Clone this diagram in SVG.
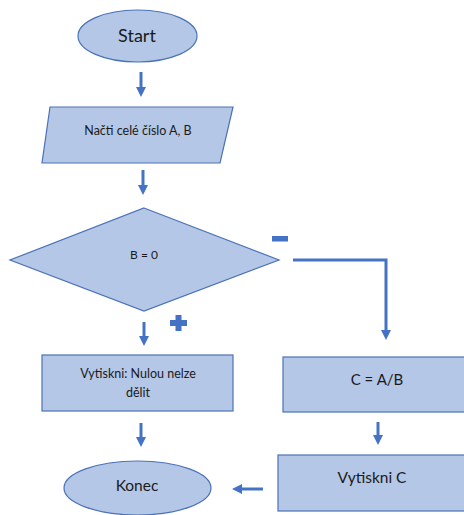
<svg xmlns="http://www.w3.org/2000/svg" width="464" height="515" viewBox="0 0 464 515">
<defs>
<style>
.shape{fill:#B4C7E7;stroke:#4A72B8;stroke-width:1.2}
.t{font-family:Lato,"Open Sans",sans-serif;fill:#1a1a1a;text-anchor:middle}
.c{stroke:#4472C4;stroke-width:3;fill:none}
.h{fill:#4472C4}
</style>
</defs>
<rect width="464" height="515" fill="#FFFFFF"/>
<g id="start">
<ellipse class="shape" cx="137.5" cy="36" rx="59.5" ry="26"/>
<text class="t" x="137" y="42" font-size="18">Start</text>
</g>
<g id="input">
<polygon class="shape" points="50,107 233,107 220,163 42,163"/>
<text class="t" x="138" y="135" font-size="12.5">Načti celé číslo A, B</text>
</g>
<g id="decision">
<polygon class="shape" points="144,208 279,260 144,311 10,260"/>
<text class="t" x="144" y="259" font-size="12">B = 0</text>
</g>
<g id="error">
<rect class="shape" x="42" y="355" width="191" height="56"/>
<text class="t" x="138" y="378" font-size="12.5">Vytiskni: Nulou nelze</text>
<text class="t" x="138" y="397" font-size="12.5">dělit</text>
</g>
<g id="divide">
<rect class="shape" x="283" y="357" width="190" height="55"/>
<text class="t" x="377" y="385" font-size="15">C = A/B</text>
</g>
<g id="printC">
<rect class="shape" x="278" y="455" width="195" height="56"/>
<text class="t" x="372" y="483" font-size="15.5">Vytiskni C</text>
</g>
<g id="end">
<ellipse class="shape" cx="137.5" cy="488" rx="73.5" ry="27"/>
<text class="t" x="137" y="491" font-size="15.5">Konec</text>
</g>
<g id="connectors">
<line class="c" x1="141" y1="72" x2="141" y2="88"/>
<polygon class="h" points="136,87 146,87 141,97"/>
<line class="c" x1="143" y1="170" x2="143" y2="186"/>
<polygon class="h" points="138,185 148,185 143,195"/>
<polyline class="c" points="293,260 386,260 386,331"/>
<polygon class="h" points="381,330 391,330 386,340"/>
<line class="c" x1="144" y1="322" x2="144" y2="337"/>
<polygon class="h" points="139,336 149,336 144,346"/>
<line class="c" x1="378" y1="422" x2="378" y2="436"/>
<polygon class="h" points="373,435 383,435 378,445"/>
<line class="c" x1="141" y1="423" x2="141" y2="438"/>
<polygon class="h" points="136,437 146,437 141,447"/>
<line class="c" x1="263" y1="489" x2="241" y2="489"/>
<polygon class="h" points="242,484 242,494 232,489"/>
<rect class="h" x="272" y="236" width="16" height="5.5"/>
<path class="h" d="M175.5,315 h6 v5 h5.5 v6 h-5.5 v5 h-6 v-5 h-5.5 v-6 h5.5 z"/>
</g>
</svg>
